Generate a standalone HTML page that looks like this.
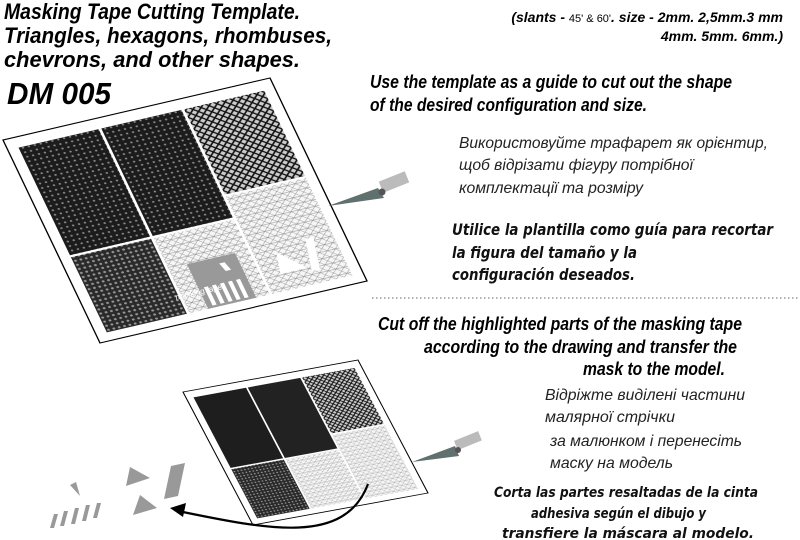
<!DOCTYPE html>
<html><head><meta charset="utf-8"><style>
html,body{margin:0;padding:0;background:#fff;width:800px;height:540px;overflow:hidden}
svg{display:block}
.t{font-family:"Liberation Sans",sans-serif;font-weight:bold;font-style:italic;fill:#000}
.u{font-family:"Liberation Sans",sans-serif;font-style:italic;fill:#222}
.s{font-family:"DejaVu Sans","Liberation Sans",sans-serif;font-weight:bold;font-style:italic;fill:#111}
</style></head><body>
<svg width="800" height="540" viewBox="0 0 800 540" xmlns="http://www.w3.org/2000/svg">
<defs>
<pattern id="dk" width="2.2" height="2.2" patternUnits="userSpaceOnUse"><rect width="2.2" height="2.2" fill="#1c1c1c"/><circle cx="1.1" cy="1.1" r="0.45" fill="#888"/></pattern>
<pattern id="dk2" width="2" height="2" patternUnits="userSpaceOnUse"><rect width="2" height="2" fill="#2a2a2a"/><circle cx="1" cy="1" r="0.5" fill="#999"/></pattern>
<pattern id="lt" width="3" height="3" patternUnits="userSpaceOnUse"><rect width="3" height="3" fill="#f6f6f6"/><path d="M0 0L3 3M3 0L0 3M0 1.5H3" stroke="#888" stroke-width="0.18"/></pattern>
<pattern id="ch" width="3" height="3" patternUnits="userSpaceOnUse"><rect width="3" height="3" fill="#ccc"/><path d="M0 0L3 3M3 0L0 3" stroke="#111" stroke-width="0.6"/></pattern>
</defs>

<!-- top template -->
<g transform="matrix(2.67,-0.62,0.97,2.03,3,140)">
<polygon points="0,0 100,0 100,100 0,100" fill="#fff" stroke="#000" stroke-width="0.5"/>
<rect x="4" y="5" width="30" height="53" fill="url(#dk)"/>
<rect x="4" y="59" width="30" height="37" fill="url(#dk2)"/>
<rect x="35" y="5" width="30" height="53" fill="url(#dk)"/>
<rect x="35" y="59" width="30" height="37" fill="url(#lt)"/>
<rect x="66" y="5" width="30" height="42" fill="url(#ch)"/>
<rect x="66" y="48" width="30" height="48" fill="url(#lt)"/>
<polygon points="42,74 60,74 60,96 42,96" fill="#999"/>
<g fill="#fff"><rect x="44" y="86" width="1.5" height="9"/><rect x="47" y="86" width="1.5" height="9"/><rect x="50" y="86" width="1.5" height="9"/><rect x="53" y="86" width="1.5" height="9"/><rect x="56" y="86" width="1.5" height="9"/><polygon points="53,77 55,77 56,81 54,81"/>
<polygon points="74,78 82,88 72,88"/><polygon points="86,75 89,75 86,90 83,90"/></g>
</g>
<text x="176" y="300" font-family="Liberation Sans" font-size="8" fill="#fff" transform="rotate(-13 176 300)">masking tape</text>

<!-- top knife -->
<polygon points="328,206 378,188 384,198" fill="#5f706e"/>
<rect x="380" y="176" width="28" height="12" fill="#bbb" transform="rotate(-22 394 182)"/>
<circle cx="382" cy="192" r="3.5" fill="#555"/>

<!-- bottom template -->
<g transform="matrix(1.75,-0.32,0.7,1.33,183,392)">
<polygon points="0,0 100,0 100,100 0,100" fill="#fff" stroke="#000" stroke-width="0.6"/>
<rect x="4" y="5" width="30" height="53" fill="#1e1e1e"/>
<rect x="4" y="59" width="30" height="37" fill="url(#dk2)"/>
<rect x="35" y="5" width="30" height="53" fill="#222"/>
<rect x="35" y="59" width="30" height="37" fill="url(#lt)"/>
<rect x="66" y="5" width="30" height="42" fill="url(#ch)"/>
<rect x="66" y="48" width="30" height="48" fill="url(#lt)"/>
</g>
<!-- bottom knife -->
<polygon points="412,462 455,446 459,456" fill="#5f706e"/>
<rect x="455" y="436" width="26" height="10" fill="#bbb" transform="rotate(-22 467 441)"/>
<circle cx="458" cy="450" r="3" fill="#555"/>

<!-- cut pieces -->
<g fill="#999">
<polygon points="50,528 54,514 58,514 54,528"/><polygon points="60,526 64,511 68,511 64,526"/><polygon points="71,524 75,508 79,508 75,524"/><polygon points="82,521 86,505 90,505 86,521"/><polygon points="93,518 97,503 101,503 97,518"/>
<polygon points="70,485 76,482 80,496"/>
<polygon points="126,486 150,478 130,467"/>
<polygon points="133,515 140,495 157,508"/>
<polygon points="171,466 185,463 178,496 164,499"/>
</g>
<path d="M368 484 C 345 545, 270 530, 178 511" fill="none" stroke="#000" stroke-width="2.2"/>
<polygon points="170,508 186,503 183,517" fill="#000"/>

<!-- separator -->
<line x1="372" y1="298" x2="800" y2="298" stroke="#999" stroke-width="1.5" stroke-dasharray="1.5 2.5"/>

<!-- left titles -->
<text class="t" x="4" y="19" font-size="22" textLength="296" lengthAdjust="spacingAndGlyphs">Masking Tape Cutting Template.</text>
<text class="t" x="4" y="43" font-size="22" textLength="328" lengthAdjust="spacingAndGlyphs">Triangles, hexagons, rhombuses,</text>
<text class="t" x="4" y="67" font-size="22" textLength="296" lengthAdjust="spacingAndGlyphs">chevrons, and other shapes.</text>
<text class="t" x="7" y="104" font-size="31" textLength="104" lengthAdjust="spacingAndGlyphs">DM 005</text>

<text class="t" x="783" y="22" font-size="14" text-anchor="end">(slants - <tspan font-size="11" font-weight="normal" font-style="normal">45' &amp; 60'</tspan>. size - 2mm. 2,5mm.3 mm</text>
<text class="t" x="783" y="41" font-size="14" text-anchor="end">4mm. 5mm. 6mm.)</text>

<text class="t" x="370" y="88" font-size="18" textLength="362" lengthAdjust="spacingAndGlyphs">Use the template as a guide to cut out the shape</text>
<text class="t" x="370" y="111" font-size="18" textLength="277" lengthAdjust="spacingAndGlyphs">of the desired configuration and size.</text>

<text class="u" x="459" y="148" font-size="16" textLength="309" lengthAdjust="spacingAndGlyphs">Використовуйте трафарет як орієнтир,</text>
<text class="u" x="459" y="170" font-size="16" textLength="234" lengthAdjust="spacingAndGlyphs">щоб відрізати фігуру потрібної</text>
<text class="u" x="459" y="193" font-size="16" textLength="184" lengthAdjust="spacingAndGlyphs">комплектації та розміру</text>

<text class="s" x="452" y="235" font-size="16" textLength="321" lengthAdjust="spacingAndGlyphs">Utilice la plantilla como guía para recortar</text>
<text class="s" x="452" y="258" font-size="16" textLength="185" lengthAdjust="spacingAndGlyphs">la figura del tamaño y la</text>
<text class="s" x="452" y="280" font-size="16" textLength="183" lengthAdjust="spacingAndGlyphs">configuración deseados.</text>

<text class="t" x="378" y="330" font-size="18" textLength="364" lengthAdjust="spacingAndGlyphs">Cut off the highlighted parts of the masking tape</text>
<text class="t" x="424" y="353" font-size="18" textLength="313" lengthAdjust="spacingAndGlyphs">according to the drawing and transfer the</text>
<text class="t" x="583" y="375" font-size="18" textLength="142" lengthAdjust="spacingAndGlyphs">mask to the model.</text>

<text class="u" x="545" y="400" font-size="16" textLength="200" lengthAdjust="spacingAndGlyphs">Відріжте виділені частини</text>
<text class="u" x="545" y="422" font-size="16" textLength="130" lengthAdjust="spacingAndGlyphs">малярної стрічки</text>
<text class="u" x="550" y="446" font-size="16" textLength="192" lengthAdjust="spacingAndGlyphs">за малюнком і перенесіть</text>
<text class="u" x="550" y="468" font-size="16" textLength="123" lengthAdjust="spacingAndGlyphs">маску на модель</text>

<text class="s" x="494" y="497" font-size="14" textLength="264" lengthAdjust="spacingAndGlyphs">Corta las partes resaltadas de la cinta</text>
<text class="s" x="531" y="518" font-size="14" textLength="175" lengthAdjust="spacingAndGlyphs">adhesiva según el dibujo y</text>
<text class="s" x="502" y="538" font-size="14" textLength="252" lengthAdjust="spacingAndGlyphs">transfiere la máscara al modelo.</text>
</svg>
</body></html>
